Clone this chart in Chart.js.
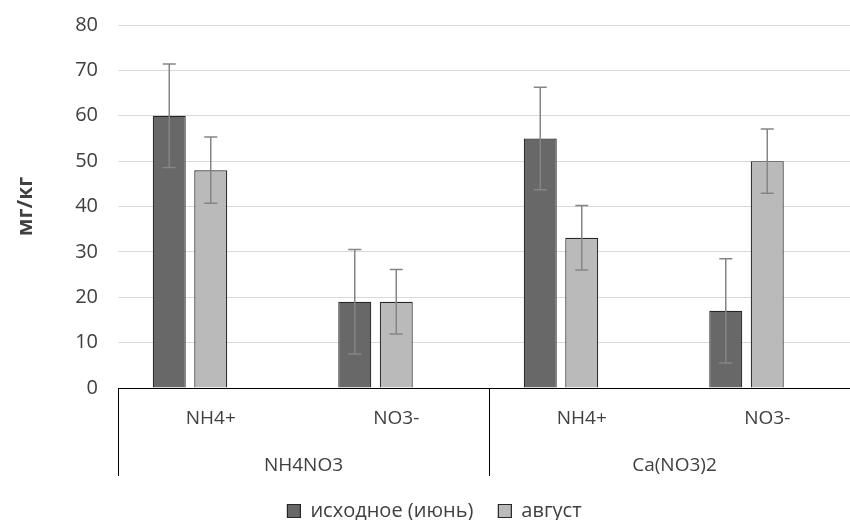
<!DOCTYPE html>
<html>
<head>
<meta charset="utf-8">
<script src="https://cdn.jsdelivr.net/npm/chart.js@4/dist/chart.umd.min.js"></script>
<style>
  body { margin: 0; background: #fff; overflow: hidden; }
  canvas { display: block; }
</style>
</head>
<body>
<canvas id="myChart" width="862" height="531"></canvas>
<script>
  // data
  const ions = ["NH4+", "NO3-", "NH4+", "NO3-"];
  const fertilizers = ["NH4NO3", "Ca(NO3)2"];
  const juneValues = [60, 19, 55, 17];
  const juneErrors = [11.4, 11.5, 11.3, 11.5];
  const augustValues = [48, 19, 33.1, 50];
  const augustErrors = [7.3, 7.1, 7.1, 7.1];
  const emptySeries = [null, null, null, null]; // blank third series, keeps bars off-centre like the original
  const yTicks = [0, 10, 20, 30, 40, 50, 60, 70, 80];

  const textColor = "#404040";
  const font = "'Open Sans', 'DejaVu Sans', sans-serif";

  const errorBars = {
    id: "errorBars",
    afterDatasetsDraw(chart) {
      const ctx = chart.ctx;
      const y = chart.scales.y;
      ctx.save();
      ctx.strokeStyle = "#858585";
      ctx.lineWidth = 1.5;
      chart.data.datasets.forEach((ds, i) => {
        if (!ds.errors) return;
        chart.getDatasetMeta(i).data.forEach((bar, j) => {
          const v = ds.data[j];
          const e = ds.errors[j];
          const top = y.getPixelForValue(v + e);
          const bot = y.getPixelForValue(v - e);
          ctx.beginPath();
          ctx.moveTo(bar.x, top);
          ctx.lineTo(bar.x, bot);
          ctx.moveTo(bar.x - 6.5, top);
          ctx.lineTo(bar.x + 6.5, top);
          ctx.moveTo(bar.x - 6.5, bot);
          ctx.lineTo(bar.x + 6.5, bot);
          ctx.stroke();
        });
      });
      ctx.restore();
    }
  };

  // second level of the category axis (fertilizer groups)
  const groupAxis = {
    id: "groupAxis",
    afterDraw(chart) {
      const ctx = chart.ctx;
      const x = chart.scales.x;
      const per = ions.length / fertilizers.length;
      const bottom = x.top + 88;
      ctx.save();
      ctx.strokeStyle = "#000";
      ctx.lineWidth = 1;
      for (let g = 0; g <= fertilizers.length; g++) {
        let px;
        if (g === 0) px = x.left;
        else if (g === fertilizers.length) px = x.right;
        else px = (x.getPixelForValue(g * per - 1) + x.getPixelForValue(g * per)) / 2;
        px = Math.round(px) + 0.5;
        ctx.beginPath();
        ctx.moveTo(px, x.top);
        ctx.lineTo(px, bottom);
        ctx.stroke();
      }
      ctx.fillStyle = textColor;
      ctx.font = "19px " + font;
      ctx.textAlign = "center";
      ctx.textBaseline = "middle";
      fertilizers.forEach((name, g) => {
        const a = x.getPixelForValue(g * per);
        const b = x.getPixelForValue(g * per + per - 1);
        ctx.fillText(name, (a + b) / 2, x.top + 78);
      });
      ctx.restore();
    }
  };

  const ctx = document.getElementById("myChart").getContext("2d");

  const myChart = new Chart(ctx, {
    type: "bar",
    data: {
      labels: ions,
      datasets: [
        {
          label: "исходное (июнь)",
          data: juneValues,
          errors: juneErrors,
          backgroundColor: "#686868",
          borderColor: "#262626",
          borderWidth: 1.2,
        },
        {
          label: "август",
          data: augustValues,
          errors: augustErrors,
          backgroundColor: "#bababa",
          borderColor: "#262626",
          borderWidth: 1.2,
        },
        {
          label: "",
          data: emptySeries,
          backgroundColor: "#ffffff",
        },
      ],
    },
    options: {
      responsive: false,
      animation: false,
      devicePixelRatio: 1,
      layout: { padding: { top: 25, left: 9, right: 2, bottom: 0 } },
      datasets: {
        bar: { categoryPercentage: 0.671, barPercentage: 0.795 }
      },
      scales: {
        x: {
          grid: { display: false },
          border: { display: true, color: "#000", width: 1 },
          ticks: { color: textColor, font: { family: font, size: 19 }, padding: 11, maxRotation: 0 },
          afterFit: (s) => { s.height = 88; },
        },
        y: {
          min: 0,
          max: 80,
          afterBuildTicks: (s) => { s.ticks = yTicks.map((v) => ({ value: v })); },
          afterFit: (s) => { s.width = 109; s.paddingTop = 0; s.paddingBottom = 0; },
          grid: { color: "#d9d9d9", lineWidth: 1, drawTicks: false },
          border: { display: false },
          ticks: { color: textColor, font: { family: font, size: 20 }, padding: 20 },
          title: {
            display: true,
            text: "мг/кг",
            color: textColor,
            font: { family: font, size: 21, weight: "bold" },
            padding: { top: 4, bottom: 0 },
          },
        },
      },
      plugins: {
        legend: {
          position: "bottom",
          labels: {
            color: textColor,
            font: { family: font, size: 20 },
            boxWidth: 13,
            boxHeight: 13,
            padding: 25,
            filter: (item) => item.datasetIndex < 2,
          },
        },
        tooltip: { enabled: false },
      },
    },
    plugins: [errorBars, groupAxis],
  });
</script>
</body>
</html>
